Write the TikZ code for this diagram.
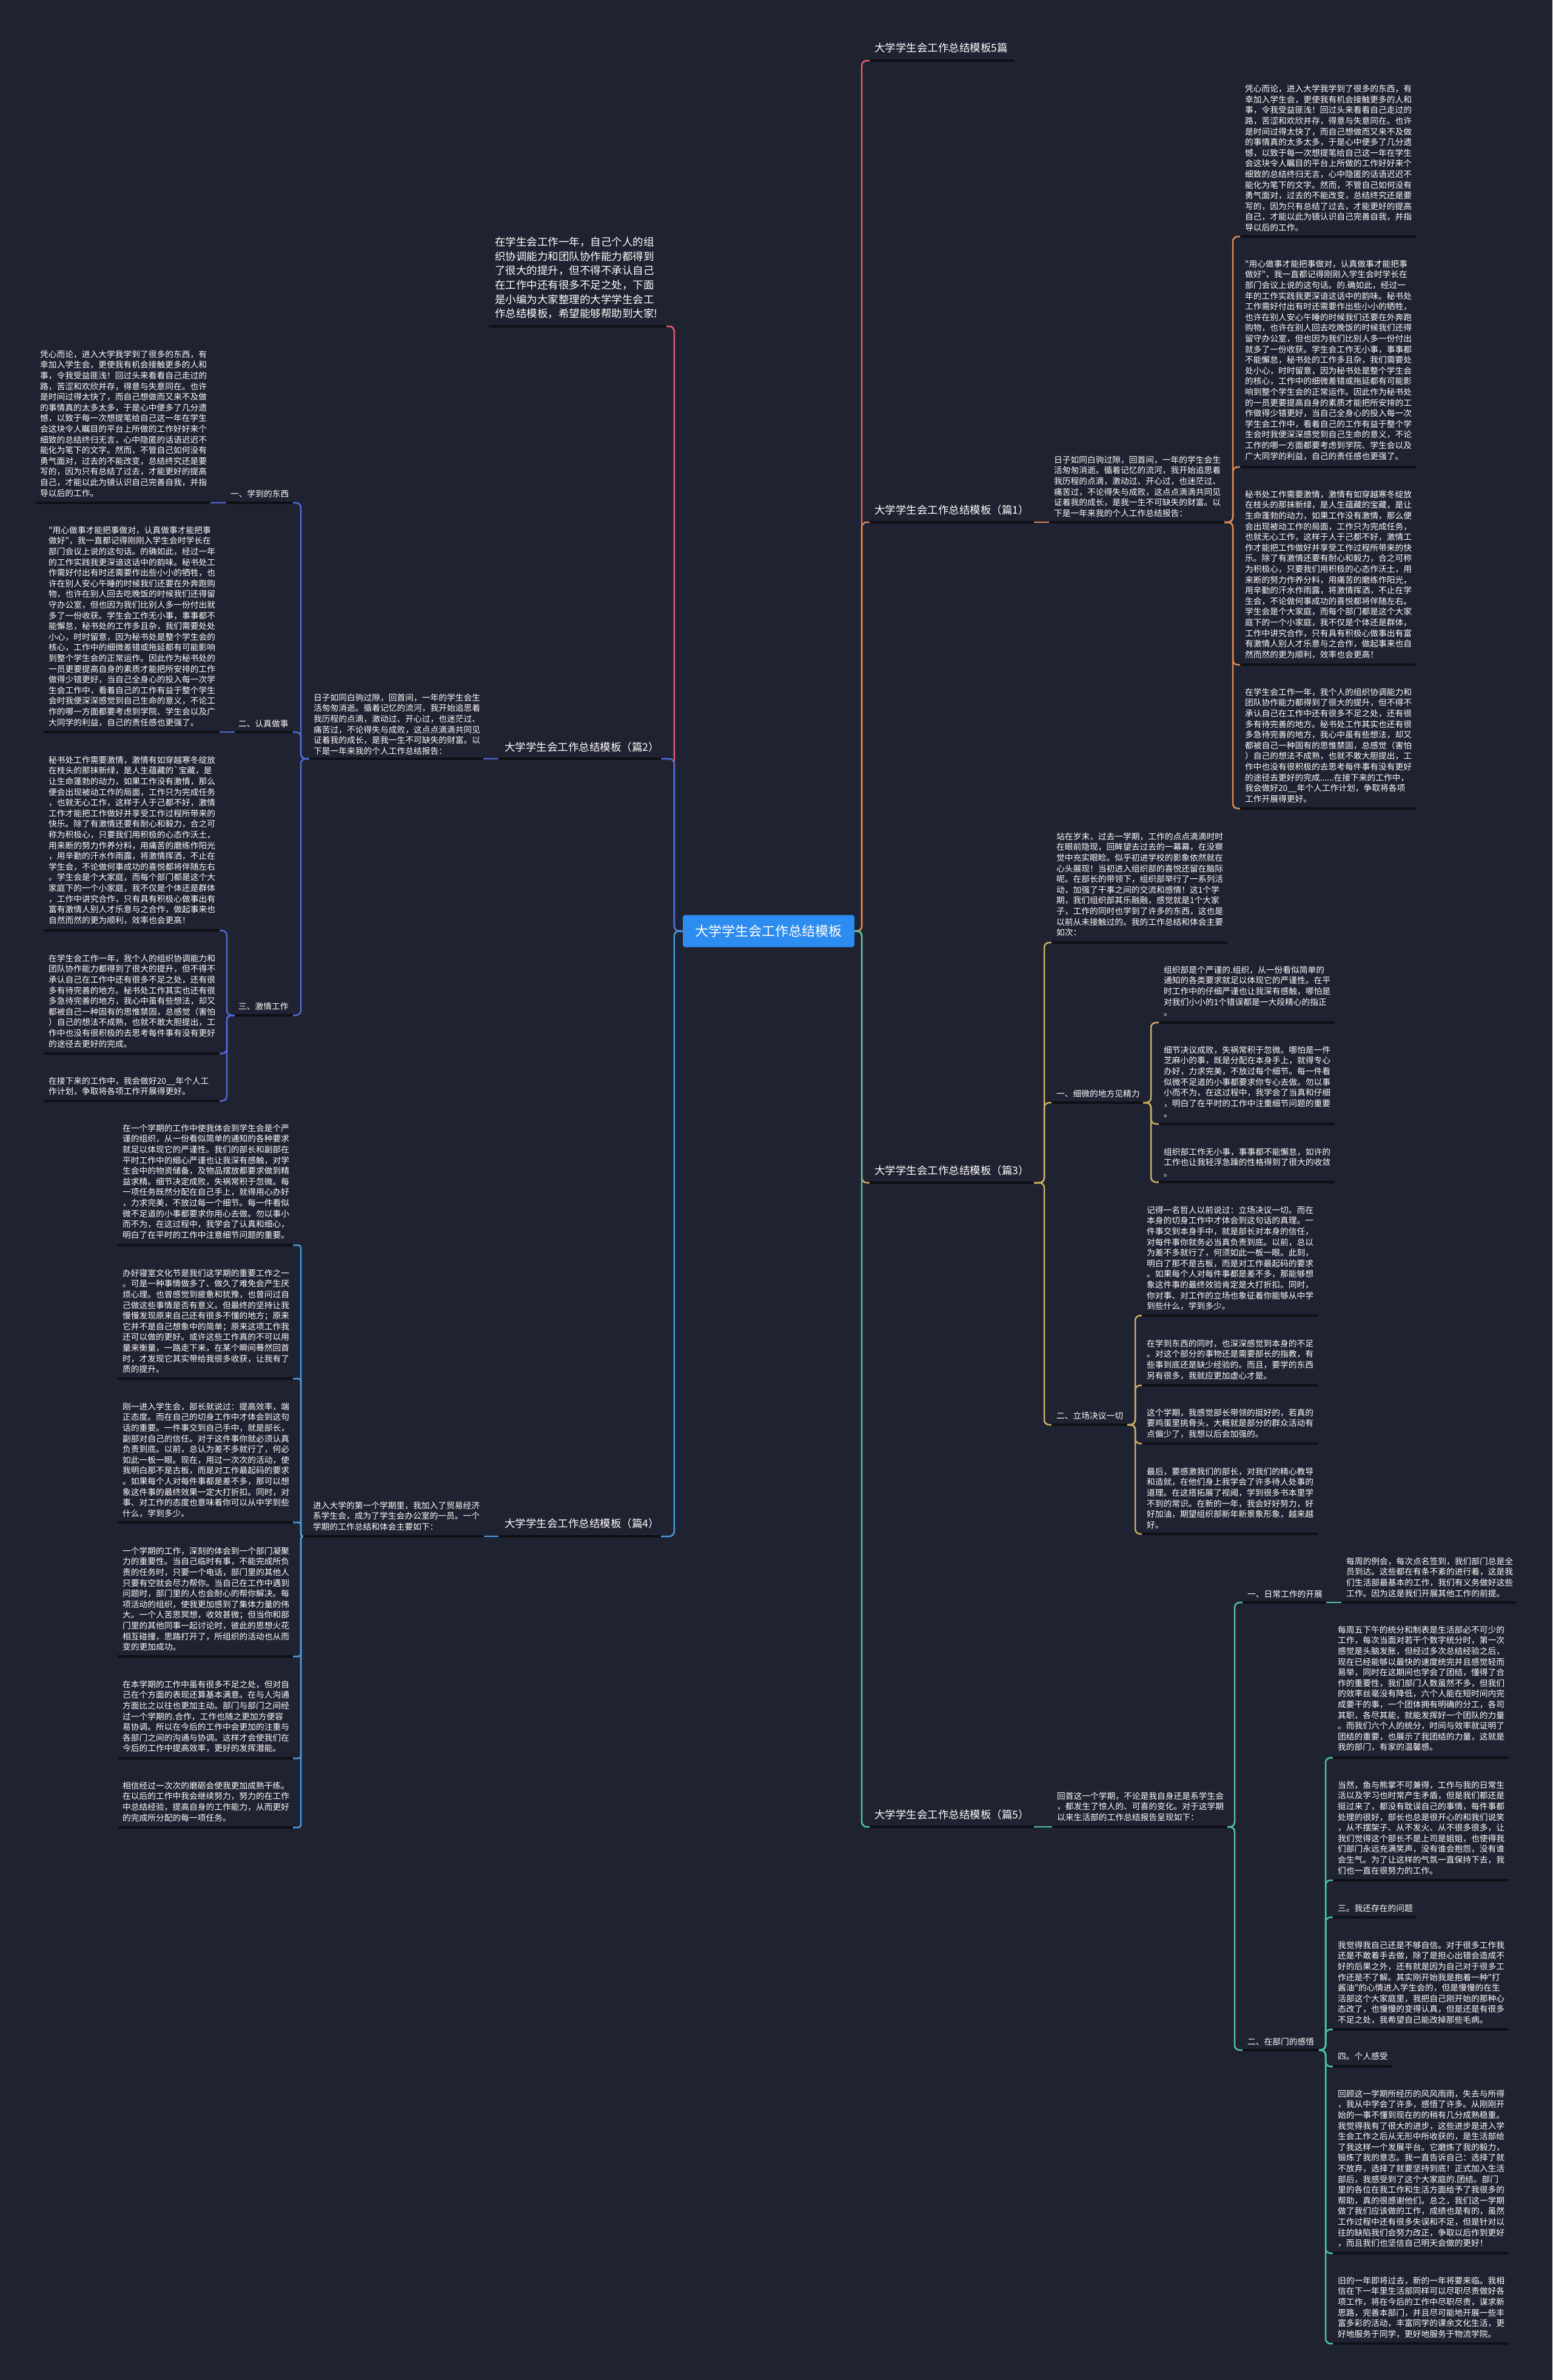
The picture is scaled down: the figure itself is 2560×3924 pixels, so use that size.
\documentclass[tikz,border=0pt]{standalone}
\usepackage{fontspec}
\newfontfamily\cjk{Noto Sans CJK SC}
\definecolor{bgc}{HTML}{1F2230}
\definecolor{ulc}{HTML}{0E1016}
\definecolor{cpink}{HTML}{E0606F}
\definecolor{corange}{HTML}{D9895A}
\definecolor{cgold}{HTML}{CDAE62}
\definecolor{cteal}{HTML}{4FC3A1}
\definecolor{cblue}{HTML}{4F6BD8}
\definecolor{csky}{HTML}{4A9BE0}
\definecolor{cnode}{HTML}{2D8CF0}
\pgfdeclarelayer{back}\pgfdeclarelayer{conn}\pgfsetlayers{back,conn,main}
\newcommand\fs{\rule{0pt}{12.5pt}}
\newcommand\fl{\rule{0pt}{16pt}}
\newcommand\uln[4]{\coordinate (#1l) at (#2,#4);\coordinate (#1r) at (#3,#4);\draw[uline] (#1l) -- (#1r);}
\tikzset{
 stxt/.style={anchor=north west, inner sep=0pt, outer sep=0pt, align=left, text=white, font=\cjk\fontsize{13.75pt}{17.6pt}\selectfont, yshift=7.3pt},
 ltxt/.style={anchor=north west, inner sep=0pt, outer sep=0pt, align=left, text=white, font=\cjk\fontsize{17.5pt}{23.6pt}\selectfont, yshift=9.35pt},
 uline/.style={line width=4pt, draw=ulc},
 conn/.style={line width=2.5pt, rounded corners=8pt, draw=#1},
 cnodestyle/.style={fill=cnode, text=white, rounded corners=4pt, minimum width=283pt, minimum height=53pt, inner sep=0pt, font=\cjk\fontsize{22pt}{26pt}\selectfont}
}
\begin{document}
\begin{tikzpicture}[x=1pt,y=-1pt]
\begin{pgfonlayer}{back}
\fill[bgc] (0,0) rectangle (2560,3924);
\end{pgfonlayer}
\path[use as bounding box] (0,0) rectangle (2560,3924);

\node[cnodestyle] (c) at (1267.5,1535) {大学学生会工作总结模板};

% ================= RIGHT =================
\node[ltxt] (r0) at (1442,79) {\fl 大学学生会工作总结模板5篇};
\uln{r0}{1434}{1673}{100}

\node[ltxt] (r1) at (1442,841) {\fl 大学学生会工作总结模板（篇1）};
\uln{r1}{1434}{1705}{861}
\node[stxt] (r1i) at (1738,758) {\fs 日子如同白驹过隙，回首间，一年的学生会生\\%
活匆匆消逝。循着记忆的流河，我开始追思着\\%
我历程的点滴，激动过、开心过，也迷茫过、\\%
痛苦过，不论得失与成败，这点点滴滴共同见\\%
证着我的成长，是我一生不可缺失的财富。以\\%
下是一年来我的个人工作总结报告：};
\uln{r1i}{1730}{2019}{861}

\node[stxt] (r1a) at (2053,146.5) {\fs 凭心而论，进入大学我学到了很多的东西，有\\%
幸加入学生会，更使我有机会接触更多的人和\\%
事，令我受益匪浅！回过头来看看自己走过的\\%
路，苦涩和欢欣并存，得意与失意同在。也许\\%
是时间过得太快了，而自己想做而又来不及做\\%
的事情真的太多太多，于是心中便多了几分遗\\%
憾，以致于每一次想提笔给自己这一年在学生\\%
会这块令人瞩目的平台上所做的工作好好来个\\%
细致的总结终归无言，心中隐匿的话语迟迟不\\%
能化为笔下的文字。然而，不管自己如何没有\\%
勇气面对，过去的不能改变，总结终究还是要\\%
写的，因为只有总结了过去，才能更好的提高\\%
自己，才能以此为镜认识自己完善自我，并指\\%
导以后的工作。};
\uln{r1a}{2045}{2335}{390}

\node[stxt] (r1b) at (2053,435) {\fs "用心做事才能把事做对，认真做事才能把事\\%
做好"，我一直都记得刚刚入学生会时学长在\\%
部门会议上说的这句话。的.确如此，经过一\\%
年的工作实践我更深谙这话中的韵味。秘书处\\%
工作需好付出有时还需要作出些小小的牺牲，\\%
也许在别人安心午睡的时候我们还要在外奔跑\\%
购物，也许在别人回去吃晚饭的时候我们还得\\%
留守办公室，但也因为我们比别人多一份付出\\%
就多了一份收获。学生会工作无小事，事事都\\%
不能懈怠，秘书处的工作多且杂，我们需要处\\%
处小心，时时留意，因为秘书处是整个学生会\\%
的核心，工作中的细微差错或拖延都有可能影\\%
响到整个学生会的正常运作。因此作为秘书处\\%
的一员更要提高自身的素质才能把所安排的工\\%
作做得少错更好，当自己全身心的投入每一次\\%
学生会工作中，看着自己的工作有益于整个学\\%
生会时我便深深感觉到自己生命的意义，不论\\%
工作的哪一方面都要考虑到学院、学生会以及\\%
广大同学的利益，自己的责任感也更强了。};
\uln{r1b}{2045}{2335}{770}

\node[stxt] (r1c) at (2053,815) {\fs 秘书处工作需要激情，激情有如穿越寒冬绽放\\%
在枝头的那抹新绿，是人生蕴藏的宝藏，是让\\%
生命蓬勃的动力，如果工作没有激情，那么便\\%
会出现被动工作的局面，工作只为完成任务，\\%
也就无心工作，这样于人于己都不好，激情工\\%
作才能把工作做好并享受工作过程所带来的快\\%
乐。除了有激情还要有耐心和毅力，合之可称\\%
为积极心，只要我们用积极的心态作沃土，用\\%
来断的努力作养分料，用痛苦的磨练作阳光，\\%
用辛勤的汗水作雨露，将激情挥洒，不止在学\\%
生会，不论做何事成功的喜悦都将伴随左右。\\%
学生会是个大家庭，而每个部门都是这个大家\\%
庭下的一个小家庭，我不仅是个体还是群体，\\%
工作中讲究合作，只有具有积极心做事出有富\\%
有激情人别人才乐意与之合作，做起事来也自\\%
然而然的更为顺利，效率也会更高！};
\uln{r1c}{2045}{2335}{1096}

\node[stxt] (r1d) at (2053,1141) {\fs 在学生会工作一年，我个人的组织协调能力和\\%
团队协作能力都得到了很大的提升，但不得不\\%
承认自己在工作中还有很多不足之处，还有很\\%
多有待完善的地方。秘书处工作其实也还有很\\%
多急待完善的地方，我心中虽有些想法，却又\\%
都被自己一种固有的思惟禁固，总感觉（害怕\\%
）自己的想法不成熟，也就不敢大胆提出，工\\%
作中也没有很积极的去思考每件事有没有更好\\%
的途径去更好的完成......在接下来的工作中，\\%
我会做好20\_\_年个人工作计划，争取将各项\\%
工作开展得更好。};
\uln{r1d}{2045}{2335}{1333}

% ---- 篇3
\node[ltxt] (r3) at (1442,1930) {\fl 大学学生会工作总结模板（篇3）};
\uln{r3}{1434}{1705}{1950}
\node[stxt] (r3i) at (1742,1379) {\fs 站在岁末，过去一学期，工作的点点滴滴时时\\%
在眼前隐现，回眸望去过去的一幕幕，在没察\\%
觉中充实眼睑。似乎初进学校的影象依然就在\\%
心头展现！当初进入组织部的喜悦还留在脑际\\%
呢。在部长的带领下，组织部举行了一系列活\\%
动，加强了干事之间的交流和感情！这1个学\\%
期，我们组织部其乐融融，感觉就是1个大家\\%
子，工作的同时也学到了许多的东西，这也是\\%
以前从未接触过的。我的工作总结和体会主要\\%
如次：};
\uln{r3i}{1734}{2024}{1554}

\node[stxt] (r3s1) at (1742,1803) {\fs 一、细微的地方见精力};
\uln{r3s1}{1734}{1885}{1818}
\node[stxt] (r3s1a) at (1919,1599) {\fs 组织部是个严谨的.组织，从一份看似简单的\\%
通知的各类要求就足以体现它的严谨性。在平\\%
时工作中的仔细严谨也让我深有感触，哪怕是\\%
对我们小小的1个错误都是一大段精心的指正\\%
。};
\uln{r3s1a}{1911}{2201}{1686}
\node[stxt] (r3s1b) at (1919,1731) {\fs 细节决议成败，失祸常积于忽微。哪怕是一件\\%
芝麻小的事，既是分配在本身手上，就得专心\\%
办好，力求完美，不放过每个细节。每一件看\\%
似微不足道的小事都要求你专心去做。勿以事\\%
小而不为，在这过程中，我学会了当真和仔细\\%
，明白了在平时的工作中注重细节问题的重要\\%
。};
\uln{r3s1b}{1911}{2201}{1853}
\node[stxt] (r3s1c) at (1919,1899) {\fs 组织部工作无小事，事事都不能懈怠，如许的\\%
工作也让我轻浮急躁的性格得到了很大的收敛\\%
。};
\uln{r3s1c}{1911}{2201}{1949}

\node[stxt] (r3s2) at (1742,2334) {\fs 二、立场决议一切};
\uln{r3s2}{1734}{1859}{2349}
\node[stxt] (r3s2a) at (1891,1995) {\fs 记得一名哲人以前说过：立场决议一切。而在\\%
本身的切身工作中才体会到这句话的真理。一\\%
件事交到本身手中，就是部长对本身的信任，\\%
对每件事你就务必当真负责到底。以前，总以\\%
为差不多就行了，何须如此一板一眼。此刻，\\%
明白了那不是古板，而是对工作最起码的要求\\%
。如果每个人对每件事都是差不多，那能够想\\%
象这件事的最终效验肯定是大打折扣。同时，\\%
你对事、对工作的立场也象征着你能够从中学\\%
到些什么，学到多少。};
\uln{r3s2a}{1883}{2173}{2169}
\node[stxt] (r3s2b) at (1891,2215) {\fs 在学到东西的同时，也深深感觉到本身的不足\\%
。对这个部分的事物还是需要部长的指教，有\\%
些事到底还是缺少经验的。而且，要学的东西\\%
另有很多，我就应更加虚心才是。};
\uln{r3s2b}{1883}{2173}{2284}
\node[stxt] (r3s2c) at (1891,2329) {\fs 这个学期，我感觉部长带领的挺好的，若真的\\%
要鸡蛋里挑骨头，大概就是部分的群众活动有\\%
点偏少了，我想以后会加强的。};
\uln{r3s2c}{1883}{2173}{2380}
\node[stxt] (r3s2d) at (1891,2426) {\fs 最后，要感激我们的部长，对我们的精心教导\\%
和造就，在他们身上我学会了许多待人处事的\\%
道理。在这搭拓展了视阈，学到很多书本里学\\%
不到的常识。在新的一年，我会好好努力，好\\%
好加油，期望组织部新年新景象形象，越来越\\%
好。};
\uln{r3s2d}{1883}{2173}{2529}

% ---- 篇5
\node[ltxt] (r5) at (1442,2992) {\fl 大学学生会工作总结模板（篇5）};
\uln{r5}{1434}{1705}{3012}
\node[stxt] (r5i) at (1743,2961) {\fs 回首这一个学期，不论是我自身还是系学生会\\%
，都发生了惊人的、可喜的变化。对于这学期\\%
以来生活部的工作总结报告呈现如下：};
\uln{r5i}{1735}{2024}{3012}

\node[stxt] (r5s1) at (2057,2628) {\fs 一、日常工作的开展};
\uln{r5s1}{2049}{2187}{2642}
\node[stxt] (r5s1a) at (2220,2574) {\fs 每周的例会，每次点名签到，我们部门总是全\\%
员到达。这些都在有条不紊的进行着，这是我\\%
们生活部最基本的工作，我们有义务做好这些\\%
工作。因为这是我们开展其他工作的前提。};
\uln{r5s1a}{2212}{2500}{2642}

\node[stxt] (r5s2) at (2057,3366) {\fs 二、在部门的感悟};
\uln{r5s2}{2049}{2175}{3380}
\node[stxt] (r5s2a) at (2206,2687) {\fs 每周五下午的统分和制表是生活部必不可少的\\%
工作，每次当面对若干个数字统分时，第一次\\%
感觉是头脑发胀，但经过多次总结经验之后，\\%
现在已经能够以最快的速度统完并且感觉轻而\\%
易举，同时在这期间也学会了团结，懂得了合\\%
作的重要性，我们部门人数虽然不多，但我们\\%
的效率丝毫没有降低，六个人能在短时间内完\\%
成要干的事，一个团体拥有明确的分工，各司\\%
其职，各尽其能，就能发挥好一个团队的力量\\%
。而我们六个人的统分，时间与效率就证明了\\%
团结的重要，也展示了我团结的力量，这就是\\%
我的部门，有家的温馨感。};
\uln{r5s2a}{2198}{2488}{2898}
\node[stxt] (r5s2b) at (2206,2943) {\fs 当然，鱼与熊掌不可兼得，工作与我的日常生\\%
活以及学习也时常产生矛盾，但是我们都还是\\%
挺过来了，都没有耽误自己的事情，每件事都\\%
处理的很好，部长也总是很开心的和我们说笑\\%
，从不摆架子、从不发火、从不很多很多，让\\%
我们觉得这个部长不是上司是姐姐，也使得我\\%
们部门永远充满笑声，没有谁会抱怨，没有谁\\%
会生气。为了让这样的气氛一直保持下去，我\\%
们也一直在很努力的工作。};
\uln{r5s2b}{2198}{2488}{3100}
\node[stxt] (r5s2c) at (2206,3146) {\fs 三。我还存在的问题};
\uln{r5s2c}{2198}{2335}{3161}
\node[stxt] (r5s2d) at (2206,3207) {\fs 我觉得我自己还是不够自信。对于很多工作我\\%
还是不敢着手去做，除了是担心出错会造成不\\%
好的后果之外，还有就是因为自己对于很多工\\%
作还是不了解。其实刚开始我是抱着一种"打\\%
酱油"的心情进入学生会的，但是慢慢的在生\\%
活部这个大家庭里，我把自己刚开始的那种心\\%
态改了，也慢慢的变得认真，但是还是有很多\\%
不足之处，我希望自己能改掉那些毛病。};
\uln{r5s2d}{2198}{2488}{3346}
\node[stxt] (r5s2e) at (2206,3390) {\fs 四。个人感受};
\uln{r5s2e}{2198}{2295}{3407}
\node[stxt] (r5s2f) at (2206,3452) {\fs 回顾这一学期所经历的风风雨雨，失去与所得\\%
，我从中学会了许多，感悟了许多。从刚刚开\\%
始的一事不懂到现在的的稍有几分成熟稳重。\\%
我觉得我有了很大的进步，这些进步是进入学\\%
生会工作之后从无形中所收获的，是生活部给\\%
了我这样一个发展平台。它磨炼了我的毅力，\\%
锻炼了我的意志。我一直告诉自己：选择了就\\%
不放弃，选择了就要坚持到底！正式加入生活\\%
部后，我感受到了这个大家庭的.团结。部门\\%
里的各位在我工作和生活方面给予了我很多的\\%
帮助，真的很感谢他们。总之，我们这一学期\\%
做了我们应该做的工作，成绩也是有的，虽然\\%
工作过程中还有很多失误和不足，但是针对以\\%
往的缺陷我们会努力改正，争取以后作到更好\\%
，而且我们也坚信自己明天会做的更好！};
\uln{r5s2f}{2198}{2488}{3715}
\node[stxt] (r5s2g) at (2206,3760) {\fs 旧的一年即将过去，新的一年将要来临。我相\\%
信在下一年里生活部同样可以尽职尽责做好各\\%
项工作，将在今后的工作中尽职尽责，谋求新\\%
思路，完善本部门，并且尽可能地开展一些丰\\%
富多彩的活动，丰富同学的课余文化生活，更\\%
好地服务于同学，更好地服务于物流学院。};
\uln{r5s2g}{2198}{2488}{3864}

% ================= LEFT =================
\node[ltxt] (l0) at (816,399) {\fl 在学生会工作一年，自己个人的组\\%
织协调能力和团队协作能力都得到\\%
了很大的提升，但不得不承认自己\\%
在工作中还有很多不足之处，下面\\%
是小编为大家整理的大学学生会工\\%
作总结模板，希望能够帮助到大家!};
\uln{l0}{806}{1099}{538}

\node[ltxt] (l2) at (832,1232) {\fl 大学学生会工作总结模板（篇2）};
\uln{l2}{822}{1090}{1251}
\node[stxt] (l2i) at (517,1150) {\fs 日子如同白驹过隙，回首间，一年的学生会生\\%
活匆匆消逝。循着记忆的流河，我开始追思着\\%
我历程的点滴，激动过、开心过，也迷茫过、\\%
痛苦过，不论得失与成败，这点点滴滴共同见\\%
证着我的成长，是我一生不可缺失的财富。以\\%
下是一年来我的个人工作总结报告：};
\uln{l2i}{510}{797}{1251}

\node[stxt] (l2s1) at (380,814) {\fs 一、学到的东西};
\uln{l2s1}{373}{483}{829}
\node[stxt] (l2s1a) at (66,584) {\fs 凭心而论，进入大学我学到了很多的东西，有\\%
幸加入学生会，更使我有机会接触更多的人和\\%
事，令我受益匪浅！回过头来看看自己走过的\\%
路，苦涩和欢欣并存，得意与失意同在。也许\\%
是时间过得太快了，而自己想做而又来不及做\\%
的事情真的太多太多，于是心中便多了几分遗\\%
憾，以致于每一次想提笔给自己这一年在学生\\%
会这块令人瞩目的平台上所做的工作好好来个\\%
细致的总结终归无言，心中隐匿的话语迟迟不\\%
能化为笔下的文字。然而，不管自己如何没有\\%
勇气面对，过去的不能改变，总结终究还是要\\%
写的，因为只有总结了过去，才能更好的提高\\%
自己，才能以此为镜认识自己完善自我，并指\\%
导以后的工作。};
\uln{l2s1a}{58}{347}{829}

\node[stxt] (l2s2) at (393,1193) {\fs 二、认真做事};
\uln{l2s2}{387}{483}{1207}
\node[stxt] (l2s2a) at (80,874) {\fs "用心做事才能把事做对，认真做事才能把事\\%
做好"，我一直都记得刚刚入学生会时学长在\\%
部门会议上说的这句话。的确如此，经过一年\\%
的工作实践我更深谙这话中的韵味。秘书处工\\%
作需好付出有时还需要作出些小小的牺牲，也\\%
许在别人安心午睡的时候我们还要在外奔跑购\\%
物，也许在别人回去吃晚饭的时候我们还得留\\%
守办公室，但也因为我们比别人多一份付出就\\%
多了一份收获。学生会工作无小事，事事都不\\%
能懈怠，秘书处的工作多且杂，我们需要处处\\%
小心，时时留意，因为秘书处是整个学生会的\\%
核心，工作中的细微差错或拖延都有可能影响\\%
到整个学生会的正常运作。因此作为秘书处的\\%
一员更要提高自身的素质才能把所安排的工作\\%
做得少错更好，当自己全身心的投入每一次学\\%
生会工作中，看着自己的工作有益于整个学生\\%
会时我便深深感觉到自己生命的意义，不论工\\%
作的哪一方面都要考虑到学院、学生会以及广\\%
大同学的利益，自己的责任感也更强了。};
\uln{l2s2a}{73}{362}{1207}

\node[stxt] (l2s3) at (393,1659) {\fs 三、激情工作};
\uln{l2s3}{387}{483}{1674}
\node[stxt] (l2s3a) at (80,1253) {\fs 秘书处工作需要激情，激情有如穿越寒冬绽放\\%
在枝头的那抹新绿，是人生蕴藏的{\char96}宝藏，是\\%
让生命蓬勃的动力，如果工作没有激情，那么\\%
便会出现被动工作的局面，工作只为完成任务\\%
，也就无心工作，这样于人于己都不好，激情\\%
工作才能把工作做好并享受工作过程所带来的\\%
快乐。除了有激情还要有耐心和毅力，合之可\\%
称为积极心，只要我们用积极的心态作沃土，\\%
用来断的努力作养分料，用痛苦的磨练作阳光\\%
，用辛勤的汗水作雨露，将激情挥洒，不止在\\%
学生会，不论做何事成功的喜悦都将伴随左右\\%
。学生会是个大家庭，而每个部门都是这个大\\%
家庭下的一个小家庭，我不仅是个体还是群体\\%
，工作中讲究合作，只有具有积极心做事出有\\%
富有激情人别人才乐意与之合作，做起事来也\\%
自然而然的更为顺利，效率也会更高！};
\uln{l2s3a}{73}{362}{1534}
\node[stxt] (l2s3b) at (80,1580) {\fs 在学生会工作一年，我个人的组织协调能力和\\%
团队协作能力都得到了很大的提升，但不得不\\%
承认自己在工作中还有很多不足之处，还有很\\%
多有待完善的地方。秘书处工作其实也还有很\\%
多急待完善的地方，我心中虽有些想法，却又\\%
都被自己一种固有的思惟禁固，总感觉（害怕\\%
）自己的想法不成熟，也就不敢大胆提出，工\\%
作中也没有很积极的去思考每件事有没有更好\\%
的途径去更好的完成。};
\uln{l2s3b}{73}{362}{1737}
\node[stxt] (l2s3c) at (80,1782) {\fs 在接下来的工作中，我会做好20\_\_年个人工\\%
作计划，争取将各项工作开展得更好。};
\uln{l2s3c}{73}{362}{1815}

% ---- 篇4
\node[ltxt] (l4) at (832,2512) {\fl 大学学生会工作总结模板（篇4）};
\uln{l4}{822}{1090}{2533}
\node[stxt] (l4i) at (516,2482) {\fs 进入大学的第一个学期里，我加入了贸易经济\\%
系学生会，成为了学生会办公室的一员。一个\\%
学期的工作总结和体会主要如下：};
\uln{l4i}{500}{798}{2533}

\node[stxt] (l4a) at (202,1860) {\fs 在一个学期的工作中使我体会到学生会是个严\\%
谨的组织，从一份看似简单的通知的各种要求\\%
就足以体现它的严谨性。我们的部长和副部在\\%
平时工作中的细心严谨也让我深有感触，对学\\%
生会中的物资储备，及物品摆放都要求做到精\\%
益求精。细节决定成败，失祸常积于忽微。每\\%
一项任务既然分配在自己手上，就得用心办好\\%
，力求完美，不放过每一个细节。每一件看似\\%
微不足道的小事都要求你用心去做。勿以事小\\%
而不为，在这过程中，我学会了认真和细心，\\%
明白了在平时的工作中注意细节问题的重要。};
\uln{l4a}{194}{483}{2053}
\node[stxt] (l4b) at (202,2099) {\fs 办好寝室文化节是我们这学期的重要工作之一\\%
。可是一种事情做多了、做久了难免会产生厌\\%
烦心理。也曾感觉到疲惫和犹豫，也曾问过自\\%
己做这些事情是否有意义。但最终的坚持让我\\%
慢慢发现原来自己还有很多不懂的地方；原来\\%
它并不是自己想象中的简单；原来这项工作我\\%
还可以做的更好。或许这些工作真的不可以用\\%
量来衡量，一路走下来，在某个瞬间蓦然回首\\%
时，才发现它其实带给我很多收获，让我有了\\%
质的提升。};
\uln{l4b}{194}{483}{2273}
\node[stxt] (l4c) at (202,2319) {\fs 刚一进入学生会，部长就说过：提高效率，端\\%
正态度。而在自己的切身工作中才体会到这句\\%
话的重要。一件事交到自己手中，就是部长，\\%
副部对自己的信任。对于这件事你就必须认真\\%
负责到底。以前，总认为差不多就行了，何必\\%
如此一板一眼。现在，用过一次次的活动，使\\%
我明白那不是古板，而是对工作最起码的要求\\%
。如果每个人对每件事都是差不多，那可以想\\%
象这件事的最终效果一定大打折扣。同时，对\\%
事、对工作的态度也意味着你可以从中学到些\\%
什么，学到多少。};
\uln{l4c}{194}{483}{2510}
\node[stxt] (l4d) at (202,2557) {\fs 一个学期的工作，深刻的体会到一个部门凝聚\\%
力的重要性。当自己临时有事，不能完成所负\\%
责的任务时，只要一个电话，部门里的其他人\\%
只要有空就会尽力帮你。当自己在工作中遇到\\%
问题时，部门里的人也会耐心的帮你解决。每\\%
项活动的组织，使我更加感到了集体力量的伟\\%
大。一个人苦思冥想，收效甚微；但当你和部\\%
门里的其他同事一起讨论时，彼此的思想火花\\%
相互碰撞，思路打开了，所组织的活动也从而\\%
变的更加成功。};
\uln{l4d}{194}{483}{2731}
\node[stxt] (l4e) at (202,2777) {\fs 在本学期的工作中虽有很多不足之处，但对自\\%
己在个方面的表现还算基本满意。在与人沟通\\%
方面比之以往也更加主动。部门与部门之间经\\%
过一个学期的.合作，工作也随之更加方便容\\%
易协调。所以在今后的工作中会更加的注重与\\%
各部门之间的沟通与协调。这样才会使我们在\\%
今后的工作中提高效率，更好的发挥潜能。};
\uln{l4e}{194}{483}{2899}
\node[stxt] (l4f) at (202,2944) {\fs 相信经过一次次的磨砺会使我更加成熟干练。\\%
在以后的工作中我会继续努力，努力的在工作\\%
中总结经验，提高自身的工作能力，从而更好\\%
的完成所分配的每一项任务。};
\uln{l4f}{194}{483}{3013}

% ================= CONNECTORS =================
\begin{pgfonlayer}{conn}
\draw[conn=cpink] (c.east) -- ++(12,0) |- (r0l);
\draw[conn=corange] (c.east) -- ++(12,0) |- (r1l);
\draw[conn=cgold] (c.east) -- ++(12,0) |- (r3l);
\draw[conn=cteal] (c.east) -- ++(12,0) |- (r5l);

\draw[conn=corange] (r1r) -- (r1il);
\draw[conn=corange] (r1ir) -- ++(14,0) |- (r1al);
\draw[conn=corange] (r1ir) -- ++(14,0) |- (r1bl);
\draw[conn=corange] (r1ir) -- ++(14,0) |- (r1cl);
\draw[conn=corange] (r1ir) -- ++(14,0) |- (r1dl);

\draw[conn=cgold] (r3r) -- ++(17,0) |- (r3il);
\draw[conn=cgold] (r3r) -- ++(17,0) |- (r3s1l);
\draw[conn=cgold] (r3r) -- ++(17,0) |- (r3s2l);
\draw[conn=cgold] (r3s1r) -- ++(13,0) |- (r3s1al);
\draw[conn=cgold] (r3s1r) -- ++(13,0) |- (r3s1bl);
\draw[conn=cgold] (r3s1r) -- ++(13,0) |- (r3s1cl);
\draw[conn=cgold] (r3s2r) -- ++(13,0) |- (r3s2al);
\draw[conn=cgold] (r3s2r) -- ++(13,0) |- (r3s2bl);
\draw[conn=cgold] (r3s2r) -- ++(13,0) |- (r3s2cl);
\draw[conn=cgold] (r3s2r) -- ++(13,0) |- (r3s2dl);

\draw[conn=cteal] (r5r) -- (r5il);
\draw[conn=cteal] (r5ir) -- ++(12,0) |- (r5s1l);
\draw[conn=cteal] (r5ir) -- ++(12,0) |- (r5s2l);
\draw[conn=cteal] (r5s1r) -- (r5s1al);
\draw[conn=cteal] (r5s2r) -- ++(11,0) |- (r5s2al);
\draw[conn=cteal] (r5s2r) -- ++(11,0) |- (r5s2bl);
\draw[conn=cteal] (r5s2r) -- ++(11,0) |- (r5s2cl);
\draw[conn=cteal] (r5s2r) -- ++(11,0) |- (r5s2dl);
\draw[conn=cteal] (r5s2r) -- ++(11,0) |- (r5s2el);
\draw[conn=cteal] (r5s2r) -- ++(11,0) |- (r5s2fl);
\draw[conn=cteal] (r5s2r) -- ++(11,0) |- (r5s2gl);

\draw[conn=cpink] (c.west) -- ++(-14,0) |- (l0r);
\draw[conn=cblue] (c.west) -- ++(-14,0) |- (l2r);
\draw[conn=csky] (c.west) -- ++(-14,0) |- (l4r);

\draw[conn=cblue] (l2l) -- (l2ir);
\draw[conn=cblue] (l2il) -- ++(-14,0) |- (l2s1r);
\draw[conn=cblue] (l2il) -- ++(-14,0) |- (l2s2r);
\draw[conn=cblue] (l2il) -- ++(-14,0) |- (l2s3r);
\draw[conn=cblue] (l2s1l) -- (l2s1ar);
\draw[conn=cblue] (l2s2l) -- (l2s2ar);
\draw[conn=cblue] (l2s3l) -- ++(-13,0) |- (l2s3ar);
\draw[conn=cblue] (l2s3l) -- ++(-13,0) |- (l2s3br);
\draw[conn=cblue] (l2s3l) -- ++(-13,0) |- (l2s3cr);

\draw[conn=csky] (l4l) -- (l4ir);
\draw[conn=csky, rounded corners=4pt] (l4il) -- ++(-4,0) |- (l4ar);
\draw[conn=csky, rounded corners=4pt] (l4il) -- ++(-4,0) |- (l4br);
\draw[conn=csky, rounded corners=4pt] (l4il) -- ++(-4,0) |- (l4cr);
\draw[conn=csky, rounded corners=4pt] (l4il) -- ++(-4,0) |- (l4dr);
\draw[conn=csky, rounded corners=4pt] (l4il) -- ++(-4,0) |- (l4er);
\draw[conn=csky, rounded corners=4pt] (l4il) -- ++(-4,0) |- (l4fr);
\end{pgfonlayer}
\end{tikzpicture}
\end{document}
